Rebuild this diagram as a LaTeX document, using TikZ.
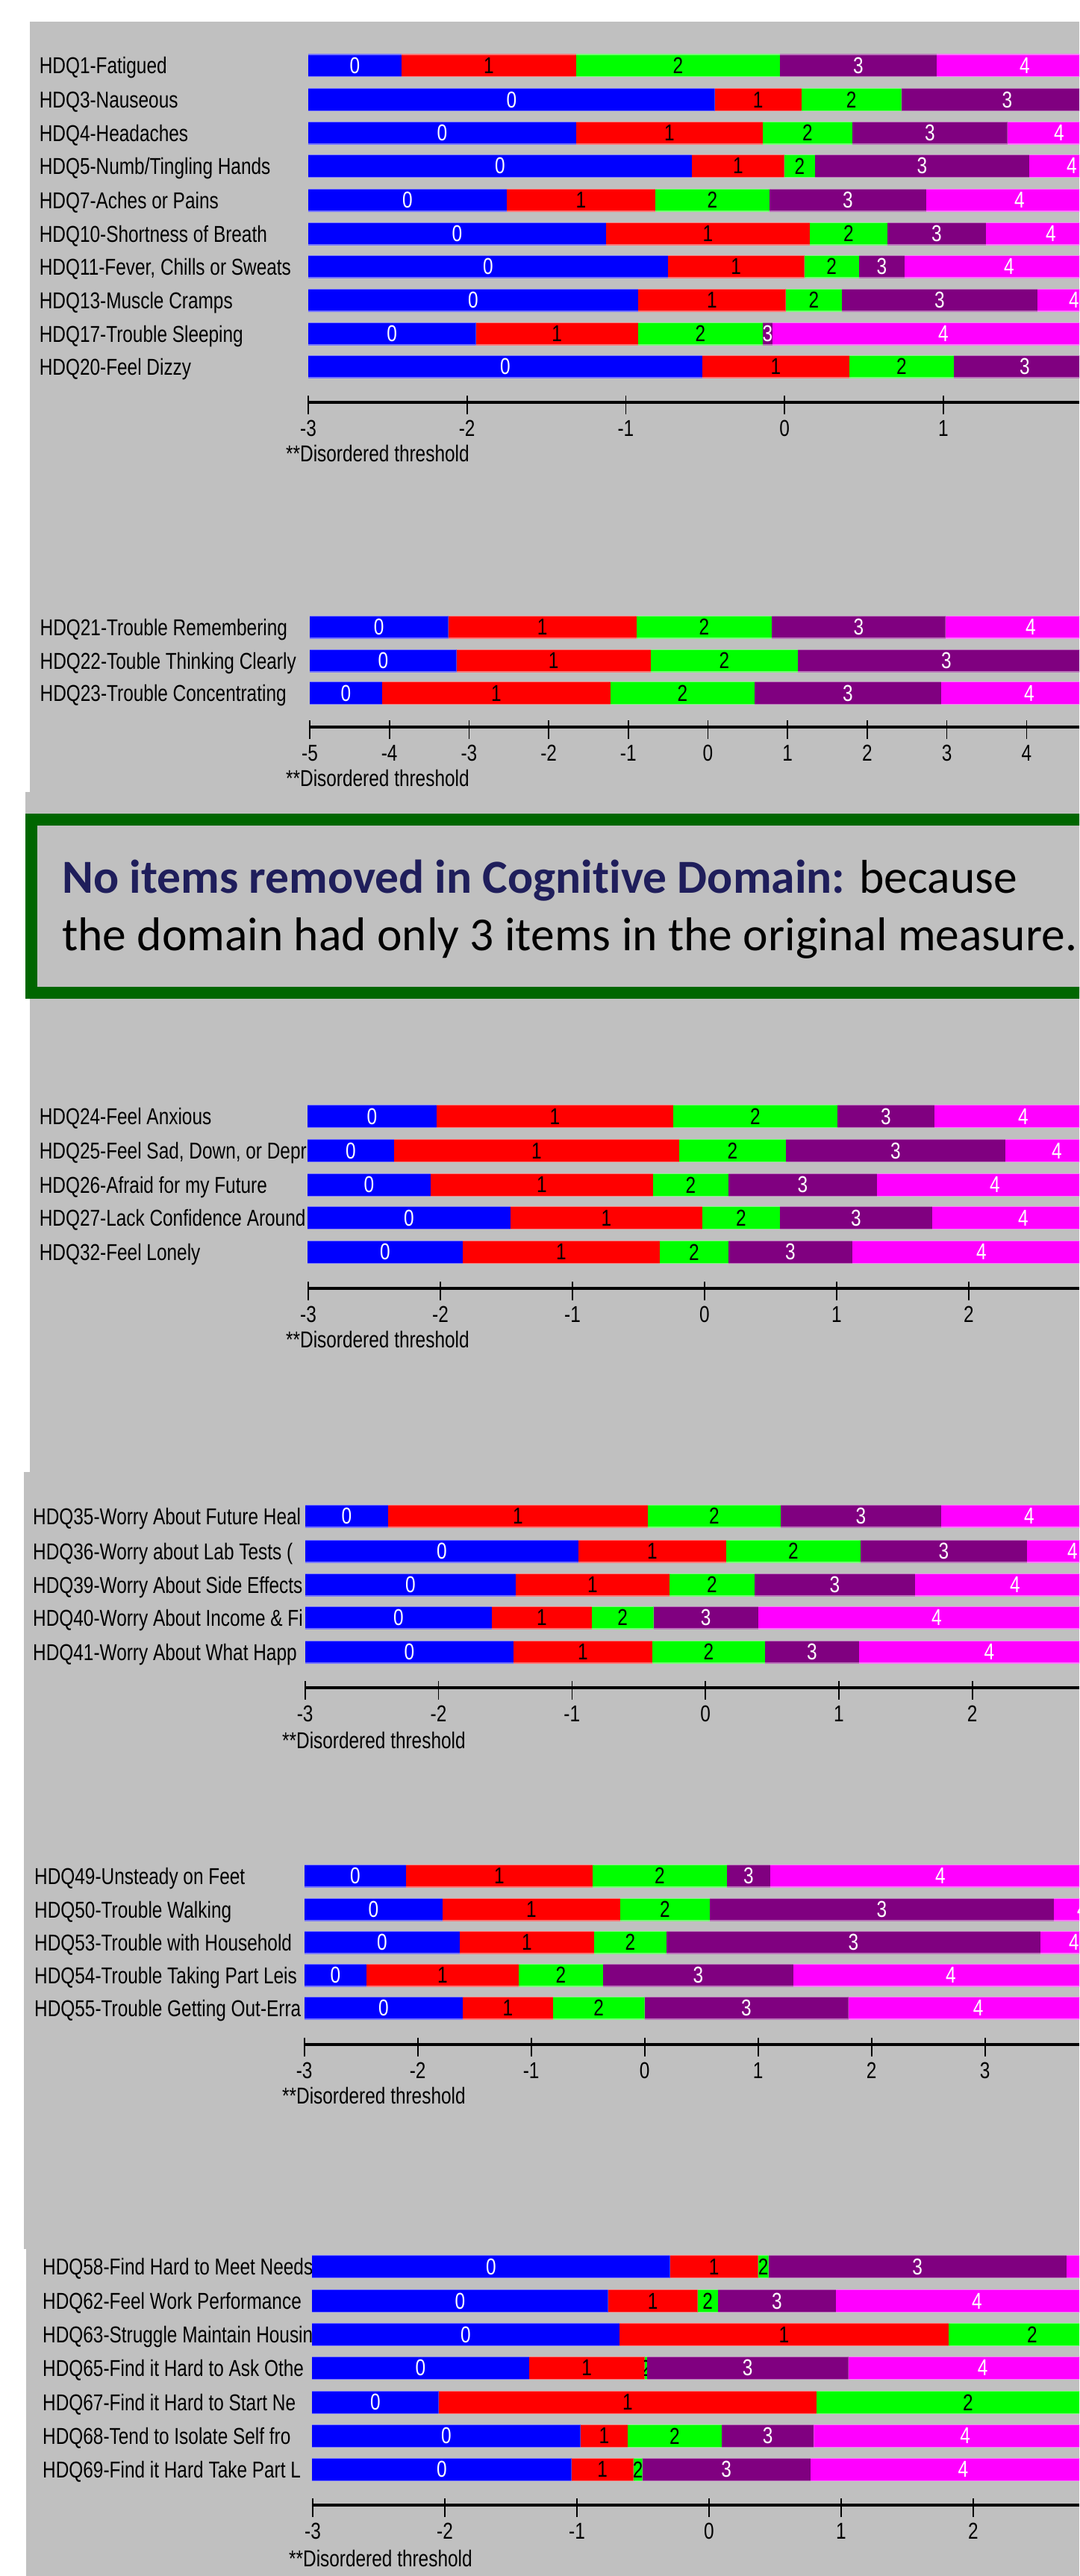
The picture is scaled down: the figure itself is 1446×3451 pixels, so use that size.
\documentclass[tikz,border=0pt]{standalone}
\usepackage{fontspec}
\setmainfont{Liberation Sans}
\newfontfamily\calfont[Ligatures=NoCommon]{Carlito}
\usepackage{graphicx}
\usepackage{xcolor}
\usepackage{tikz}
\usetikzlibrary{positioning}

\definecolor{panelgray}{RGB}{192,192,192}
\definecolor{framegreen}{RGB}{0,102,0}
\definecolor{navytext}{RGB}{31,30,91}
\definecolor{cat0}{RGB}{0,0,255}
\definecolor{cat1}{RGB}{255,0,0}
\definecolor{cat2}{RGB}{0,255,0}
\definecolor{cat3}{RGB}{128,0,128}
\definecolor{cat4}{RGB}{255,0,255}
\colorlet{txt0}{white}
\colorlet{txt1}{black}
\colorlet{txt2}{black}
\colorlet{txt3}{white}
\colorlet{txt4}{white}

\newcommand{\tallfont}[1]{\scalebox{1}[1.26]{#1}}
\def\labx{52}

% one item: name, row y, label, category boundaries
\newcommand{\itembar}[4]{%
  \node[itemlabel] (#1) at (\labx,#2+11) {\tallfont{#3}};
  \foreach \xb [remember=\xb as \xa (initially 0), count=\ci from -1] in {#4} {
    \ifnum\ci>-1
      \begin{scope}
        \clip (\xa,#2-15) rectangle (\xb,#2+15);
        \fill[cat\ci] (\xa,#2-15) rectangle (\xb,#2+15);
        \draw[cat\ci!55!white, line width=1.5pt] (\xa,#2-15) -- (\xb,#2-15) (\xa,#2+15) -- (\xb,#2+15);
        \node[digit, text=txt\ci] (#1-\ci) at ({(\xa+\xb)/2},#2) {\tallfont{\ci}};
      \end{scope}
    \fi
  }
}

% logit ruler: name, y, x of first tick, unit, tick values
\newcommand{\logitaxis}[5]{%
  \draw[axisline] (#3,#2) -- (1446,#2);
  \foreach \v [count=\i from 0] in {#5} {
    \draw[tickline] ({#3+\i*#4},#2-9) -- ({#3+\i*#4},#2+16);
    \node[ticklabel] (#1t\i) at ({#3+\i*#4},#2+35) {\tallfont{\v}};
  }
}

\begin{document}
\begin{tikzpicture}[x=1pt, y=-1pt,
    itemlabel/.style={anchor=base west, inner sep=0pt, font=\fontsize{24.4}{28}\selectfont},
    digit/.style={inner sep=0pt, font=\fontsize{24.4}{28}\selectfont},
    ticklabel/.style={inner sep=0pt, font=\fontsize{24.4}{28}\selectfont},
    note/.style={anchor=west, inner sep=0pt, font=\fontsize{24.4}{28}\selectfont},
    axisline/.style={line width=4pt},
    tickline/.style={line width=1.6pt},
    greenframe/.style={draw=framegreen, line width=16pt, fill=panelgray},
    boxtext/.style={anchor=base west, inner sep=0pt, font=\calfont\fontsize{63.5}{76}\selectfont}]
    \clip (0,0) rectangle (1446,3451);
    \fill[white] (0,0) rectangle (1446,3451);
    % grey screenshots
    \fill[panelgray] (40,29) rectangle (1446,1061);
    \fill[panelgray] (34,1061) rectangle (1446,1090);
    \fill[panelgray] (40,1338) rectangle (1446,1972);
    \fill[panelgray] (32,1972) rectangle (1446,3013);
    \fill[panelgray] (35,3013) rectangle (1446,3451);

    % Symptoms
    \def\labx{52.6}
    \itembar{q1}{87.8}{HDQ1-Fatigued}{413,538,772,1045,1255,1491}
    \itembar{q3}{133.5}{HDQ3-Nauseous}{413,957.6,1073.8,1207.6,1491}
    \itembar{q4}{178}{HDQ4-Headaches}{413,772,1022,1142,1349.6,1488}
    \itembar{q5}{222.4}{HDQ5-Numb/Tingling Hands}{413,927,1050.7,1092,1379,1493}
    \itembar{q7}{268}{HDQ7-Aches or Pains}{413,679,878,1031,1241,1491}
    \itembar{q10}{313}{HDQ10-Shortness of Breath}{413,812,1085,1189,1321,1495}
    \itembar{q11}{357}{HDQ11-Fever, Chills or Sweats}{413,895,1077.5,1151,1212,1492}
    \itembar{q13}{402}{HDQ13-Muscle Cramps}{413,855,1052.6,1128,1390,1488}
    \itembar{q17}{447}{HDQ17-Trouble Sleeping}{413,637.5,855,1022,1035,1493}
    \itembar{q20}{491}{HDQ20-Feel Dizzy}{413,941,1138,1278,1468}
    \logitaxis{sym}{539}{413}{212.7}{-3,-2,-1,0,1}
    \node[note] (symnote) at (383,608) {\tallfont{**Disordered threshold}};

    % Cognitive
    \def\labx{53.5}
    \itembar{q21}{840}{HDQ21-Trouble Remembering}{415,600.5,853,1034,1266.6,1495}
    \itembar{q22}{885}{HDQ22-Touble Thinking Clearly}{415,611.6,871.8,1069,1467}
    \itembar{q23}{928.6}{HDQ23-Trouble Concentrating}{415,512,818,1011,1261,1497}
    \logitaxis{cog}{974}{415}{106.7}{-5,-4,-3,-2,-1,0,1,2,3,4}
    \node[note] (cognote) at (383,1042) {\tallfont{**Disordered threshold}};

    \draw[greenframe] (42,1098) rectangle (1520,1330);
    \node[boxtext] (cogline1) at (83,1196) {{\bfseries\color{navytext}No items removed in Cognitive Domain:} because};
    \node[boxtext] (cogline2) at (83,1273) {the domain had only 3 items in the original measure.};

    % Emotional
    \def\labx{52.6}
    \itembar{q24}{1495.7}{HDQ24-Feel Anxious}{412,585,902,1122,1252,1490}
    \itembar{q25}{1541.7}{HDQ25-Feel Sad, Down, or Depr}{412,528,910,1053,1347,1485}
    \itembar{q26}{1587.3}{HDQ26-Afraid for my Future}{412,577,875,976,1175,1491}
    \itembar{q27}{1631.7}{HDQ27-Lack Confidence Around}{412,684,941,1045,1249,1493}
    \itembar{q32}{1677.3}{HDQ32-Feel Lonely}{412,620,884,976,1142,1488}
    \logitaxis{emo}{1726}{413}{177}{-3,-2,-1,0,1,2}
    \node[note] (emonote) at (383,1794) {\tallfont{**Disordered threshold}};

    % Worry
    \def\labx{44}
    \itembar{q35}{2031}{HDQ35-Worry About Future Heal}{408.7,520,868,1046,1261,1497}
    \itembar{q36}{2078}{HDQ36-Worry about Lab Tests (}{408.7,775,973,1153,1376,1498}
    \itembar{q39}{2123}{HDQ39-Worry About Side Effects}{408.7,691,897,1011,1226,1494}
    \itembar{q40}{2167}{HDQ40-Worry About Income \& Fi}{408.7,659,793,875.5,1016,1494}
    \itembar{q41}{2213}{HDQ41-Worry About What Happ}{408.7,688,874,1025,1151,1500}
    \logitaxis{wor}{2261}{408.7}{178.8}{-3,-2,-1,0,1,2}
    \node[note] (wornote) at (378,2331) {\tallfont{**Disordered threshold}};

    % Physical function
    \def\labx{46}
    \itembar{q49}{2513}{HDQ49-Unsteady on Feet}{407.7,544,794,974,1032,1488}
    \itembar{q50}{2558}{HDQ50-Trouble Walking}{407.7,593,831,951,1412,1488}
    \itembar{q53}{2602}{HDQ53-Trouble with Household}{407.7,616,796,893,1394,1484}
    \itembar{q54}{2646}{HDQ54-Trouble Taking Part Leis}{407.7,491,695,808,1063,1485}
    \itembar{q55}{2690}{HDQ55-Trouble Getting Out-Erra}{407.7,620,741,863.5,1136.5,1485}
    \logitaxis{phy}{2738.6}{407.7}{152}{-3,-2,-1,0,1,2,3}
    \node[note] (phynote) at (378,2807) {\tallfont{**Disordered threshold}};

    % Social
    \def\labx{57}
    \itembar{q58}{3036.7}{HDQ58-Find Hard to Meet Needs}{418,897.6,1015.7,1029.5,1429,1600}
    \itembar{q62}{3082.7}{HDQ62-Feel Work Performance}{418,814.6,934.5,962,1120,1498}
    \itembar{q63}{3127.7}{HDQ63-Struggle Maintain Housin}{418,830,1271,1495}
    \itembar{q65}{3172.3}{HDQ65-Find it Hard to Ask Othe}{418,709,863.5,867,1136.5,1497}
    \itembar{q67}{3218.3}{HDQ67-Find it Hard to Start Ne}{418,587.6,1094,1500}
    \itembar{q68}{3263.3}{HDQ68-Tend to Isolate Self fro}{418,777.7,841,967,1090.4,1496}
    \itembar{q69}{3308.3}{HDQ69-Find it Hard Take Part L}{418,765.7,848.7,860.7,1085.8,1495}
    \logitaxis{soc}{3355.7}{419}{177}{-3,-2,-1,0,1,2}
    \node[note] (socnote) at (387,3427) {\tallfont{**Disordered threshold}};
\end{tikzpicture}
\end{document}
